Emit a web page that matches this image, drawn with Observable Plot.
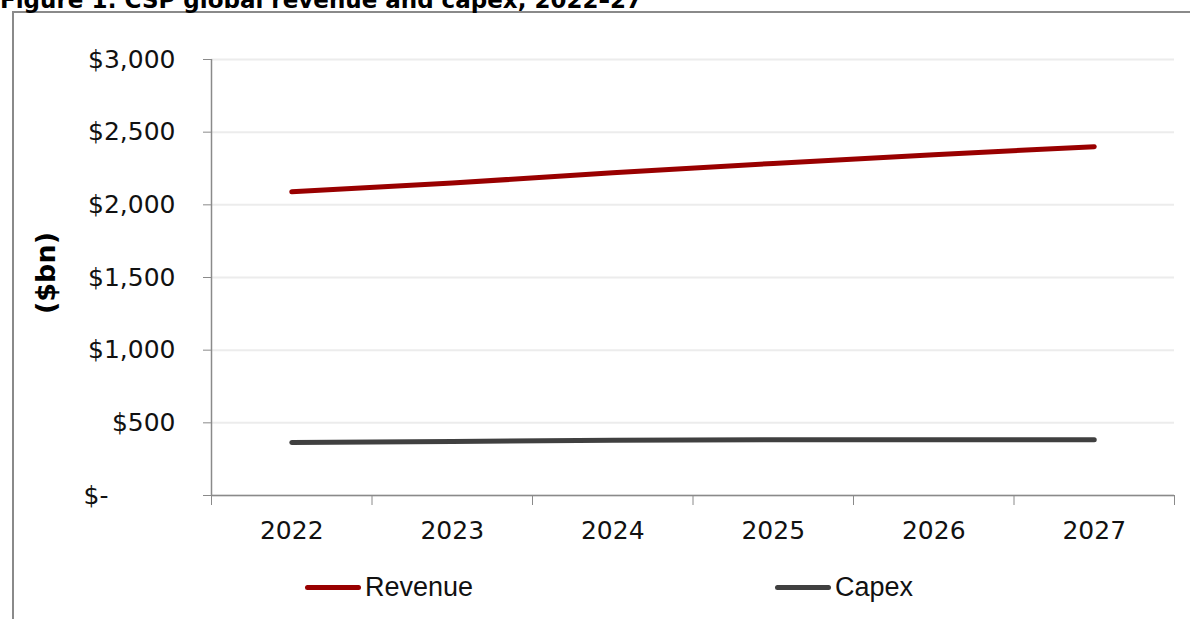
<!DOCTYPE html>
<html>
<head>
<meta charset="utf-8">
<script src="https://cdn.jsdelivr.net/npm/d3@7"></script>
<script src="https://cdn.jsdelivr.net/npm/@observablehq/plot@0.6"></script>
<style>
  body { margin: 0; background: #fff; width: 1190px; height: 619px; overflow: hidden; position: relative; font-family: "DejaVu Sans", Verdana, sans-serif; }
  #title { position: absolute; left: 0; top: -11px; font: bold 23px/23px "DejaVu Sans", sans-serif; white-space: nowrap; color: #000; }
  #frame { position: absolute; left: 12px; top: 11px; width: 1300px; height: 700px; border: 2px solid #8a8a8a; box-sizing: border-box; }
  #chart { position: absolute; left: 0; top: 0; }
  #chart svg text { fill: #111; }
  #ytitle { position: absolute; left: 45px; top: 273px; transform: translate(-50%, -50%) rotate(-90deg); font: bold 27px "DejaVu Sans", sans-serif; white-space: nowrap; }
  .leg { position: absolute; top: 571px; height: 32px; display: flex; align-items: center; font: 27px "Liberation Sans", Arial, sans-serif; color: #111; }
  .leg span.sw { display: inline-block; width: 56px; height: 5px; border-radius: 3px; margin-right: 4px; }
</style>
</head>
<body>
<div id="frame"></div>
<div id="title">Figure 1: CSP global revenue and capex, 2022–27</div>
<div id="chart"></div>
<div id="ytitle">($bn)</div>
<div id="legend"></div>
<script>
const years = [2022, 2023, 2024, 2025, 2026, 2027];
const revenue = [2090, 2150, 2220, 2285, 2345, 2400];
const capex = [365, 372, 380, 383, 383, 383];
const seriesNames = ["Revenue", "Capex"];
const seriesColors = ["#990000", "#404040"];
const yTicks = [0, 500, 1000, 1500, 2000, 2500, 3000];

const rows = [];
years.forEach((yr, i) => {
  rows.push({year: yr, value: revenue[i], series: seriesNames[0]});
  rows.push({year: yr, value: capex[i], series: seriesNames[1]});
});
const boundaries = years.map(y => y - 0.5).concat([years[years.length - 1] + 0.5]);
const fmt = d => d === 0 ? "" : "$" + d3.format(",")(d);

const chart = Plot.plot({
  width: 1190,
  height: 560,
  marginTop: 59,
  marginBottom: 65,
  marginLeft: 211,
  marginRight: 16,
  style: {color: "#8a8a8a", background: "transparent", fontFamily: "DejaVu Sans, Verdana, sans-serif"},
  x: {type: "linear", domain: [boundaries[0], boundaries[boundaries.length - 1]]},
  y: {domain: [0, 3000]},
  color: {domain: seriesNames, range: seriesColors},
  marks: [
    Plot.gridY(yTicks, {stroke: "#ececec", strokeOpacity: 1, strokeWidth: 2}),
    Plot.axisY({ticks: yTicks, tickFormat: fmt, tickSize: 8, tickPadding: 28, fontSize: 25, label: null, stroke: "#8a8a8a"}),
    Plot.text([0], {x: () => boundaries[0], y: d => d, text: () => "$-", textAnchor: "end", dx: -103, fontSize: 25}),
    Plot.axisX({ticks: boundaries, tickSize: 10, tickFormat: () => "", label: null, stroke: "#8a8a8a"}),
    Plot.axisX({ticks: years, tickSize: 0, tickPadding: 26, tickFormat: d => String(d), fontSize: 25, label: null}),
    Plot.ruleX([boundaries[0]], {stroke: "#8a8a8a", strokeWidth: 1.5}),
    Plot.ruleY([0], {stroke: "#8a8a8a", strokeWidth: 1.5}),
    Plot.line(rows, {x: "year", y: "value", z: "series", stroke: "series", strokeWidth: 5, strokeLinecap: "round", strokeLinejoin: "round"})
  ]
});
document.getElementById("chart").appendChild(chart);

const legendPos = [305, 775];
const legend = document.getElementById("legend");
seriesNames.forEach((name, i) => {
  const d = document.createElement("div");
  d.className = "leg";
  d.style.left = legendPos[i] + "px";
  d.innerHTML = `<span class="sw" style="background:${seriesColors[i]}"></span>${name}`;
  legend.appendChild(d);
});
</script>
</body>
</html>
